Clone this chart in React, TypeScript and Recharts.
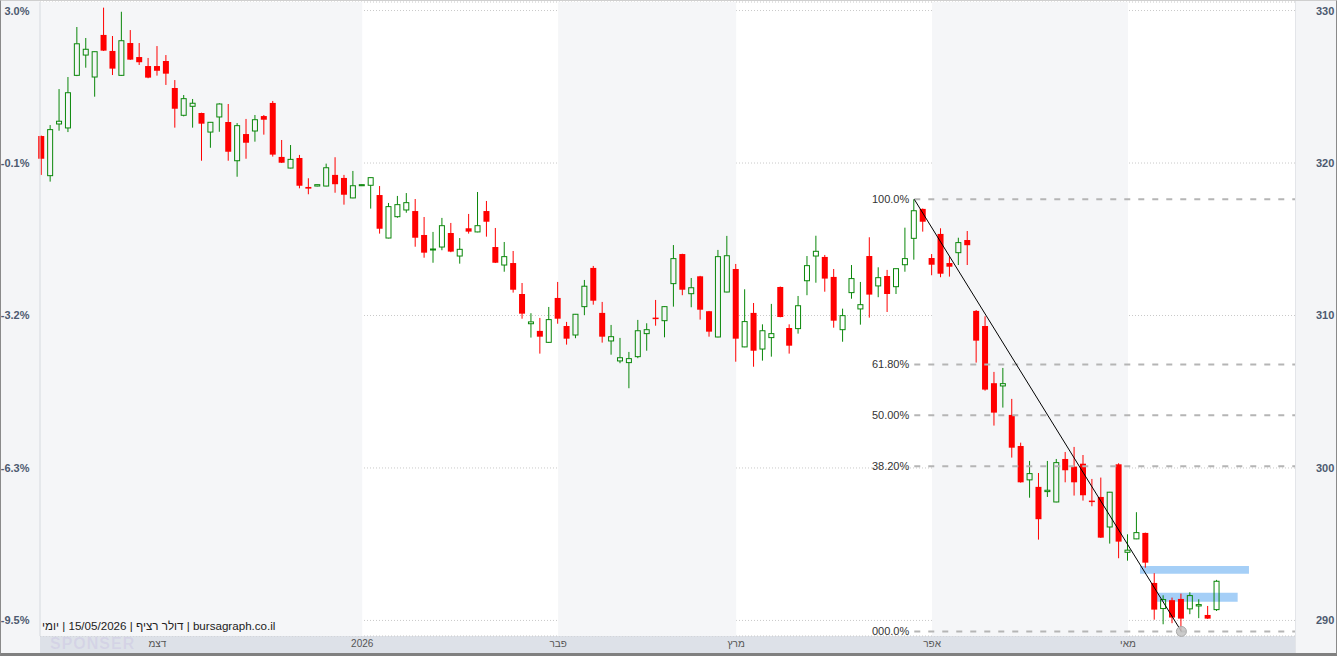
import React from 'react';
import {
  ComposedChart,
  Bar,
  XAxis,
  YAxis,
  CartesianGrid,
  ReferenceArea,
  ReferenceLine,
  ReferenceDot,
  Label,
} from 'recharts';

// ---- data ----
const opens = [
  321.77, 319.17, 322.56, 322.30, 325.75, 327.08, 325.64, 328.40, 327.35, 325.75,
  327.87, 326.95, 326.36, 326.36, 326.69, 324.92, 323.13, 323.72, 323.28, 322.03,
  323.02, 322.69, 320.15, 321.90, 322.10, 323.08, 323.94, 320.40, 319.67, 320.33,
  318.43, 318.49, 318.49, 319.22, 319.02, 317.71, 318.51, 318.54, 317.90, 315.08,
  316.48, 316.92, 316.85, 315.28, 314.32, 314.49, 315.41, 313.90, 315.72, 315.48,
  316.85, 314.49, 313.31, 313.44, 311.41, 309.46, 308.99, 308.24, 311.15, 309.31,
  308.72, 310.58, 313.12, 310.17, 308.33, 307.02, 306.91, 307.30, 308.81, 309.86,
  309.66, 312.09, 314.03, 311.43, 312.57, 310.28, 308.59, 311.54, 313.05, 307.94,
  310.17, 307.80, 308.55, 311.87, 309.18, 309.14, 312.28, 313.90, 313.84, 312.53,
  309.07, 311.50, 310.43, 313.90, 311.94, 312.59, 311.89, 313.33, 315.06, 316.99,
  313.77, 315.35, 313.44, 314.12, 314.95, 310.30, 309.31, 305.56, 305.38, 303.48,
  301.44, 299.22, 298.76, 298.45, 297.77, 300.59, 300.09, 300.28, 297.86, 298.10,
  296.13, 300.24, 294.47, 295.35, 295.74, 292.46, 290.78, 291.33, 291.41, 290.76,
  290.95, 290.36, 290.71,
];
const highs = [
  321.80, 322.49, 324.85, 325.64, 328.92, 328.20, 327.32, 330.19, 328.33, 329.92,
  328.72, 327.87, 326.89, 327.67, 327.08, 325.44, 324.46, 324.20, 323.30, 322.69,
  323.92, 323.87, 322.62, 322.89, 323.15, 323.15, 324.07, 321.51, 321.18, 320.53,
  319.00, 318.60, 319.96, 320.38, 319.22, 319.48, 318.60, 319.06, 318.49, 317.38,
  317.84, 318.03, 317.64, 316.46, 315.48, 316.40, 316.07, 315.08, 316.66, 318.10,
  317.51, 315.74, 314.82, 314.23, 312.13, 310.15, 309.84, 310.56, 312.20, 309.58,
  310.10, 312.33, 313.25, 310.89, 309.38, 308.53, 307.61, 309.71, 309.49, 311.02,
  310.61, 314.62, 314.05, 312.46, 312.60, 310.30, 314.30, 315.22, 313.38, 311.72,
  310.82, 309.42, 310.76, 311.90, 309.42, 311.28, 313.90, 315.23, 313.97, 313.05,
  310.45, 313.31, 312.20, 315.13, 313.16, 312.99, 313.09, 315.76, 317.62, 317.02,
  314.03, 315.72, 313.86, 315.10, 315.54, 310.36, 309.95, 306.30, 306.56, 304.53,
  301.66, 300.46, 299.67, 300.46, 300.59, 301.05, 301.38, 300.85, 299.28, 299.37,
  298.43, 300.31, 295.65, 297.10, 295.76, 293.10, 291.65, 291.50, 291.76, 291.85,
  291.39, 290.95, 292.66,
];
const lows = [
  319.22, 318.78, 322.12, 322.03, 325.70, 326.25, 324.35, 327.35, 325.77, 325.72,
  326.76, 326.43, 325.56, 325.73, 325.12, 322.32, 323.06, 322.32, 320.15, 321.00,
  322.05, 320.15, 319.10, 320.28, 321.40, 321.86, 320.42, 320.00, 319.65, 318.34,
  317.95, 318.47, 318.47, 318.05, 317.27, 317.69, 318.49, 317.01, 315.37, 315.06,
  316.41, 316.74, 314.51, 313.79, 313.46, 314.28, 314.15, 313.40, 315.37, 315.46,
  315.17, 313.44, 312.87, 311.50, 309.79, 308.55, 307.50, 308.20, 309.46, 308.09,
  308.51, 310.02, 310.71, 308.22, 307.43, 306.87, 305.23, 307.20, 307.69, 309.33,
  308.57, 310.58, 311.33, 310.54, 309.73, 308.61, 308.57, 311.52, 306.97, 307.92,
  306.64, 307.04, 307.30, 309.88, 307.50, 308.81, 311.33, 312.15, 311.56, 309.20,
  308.28, 311.10, 309.40, 309.86, 311.20, 310.23, 311.41, 312.87, 313.66, 315.50,
  312.64, 312.51, 312.55, 313.31, 313.31, 306.91, 305.07, 302.78, 303.96, 300.68,
  299.04, 298.05, 295.30, 298.10, 297.75, 299.06, 298.19, 297.86, 297.49, 295.41,
  295.04, 294.08, 293.92, 295.33, 293.46, 290.05, 289.75, 289.82, 289.28, 290.41,
  290.15, 290.10, 290.62,
];
const closes = [
  320.28, 322.19, 322.74, 324.61, 327.82, 327.46, 327.30, 327.37, 326.19, 328.02,
  326.78, 326.61, 325.60, 326.05, 325.86, 323.56, 324.22, 323.92, 322.58, 322.67,
  323.87, 320.74, 322.45, 321.33, 322.84, 322.84, 320.55, 320.02, 320.24, 318.51,
  318.32, 318.58, 319.69, 318.61, 317.92, 318.51, 318.58, 319.04, 315.69, 317.14,
  317.27, 317.40, 315.10, 314.12, 314.36, 315.89, 314.19, 314.34, 315.50, 315.89,
  316.15, 313.46, 313.86, 311.69, 310.12, 309.58, 308.61, 309.73, 309.79, 308.48,
  310.08, 311.92, 310.97, 308.61, 308.61, 307.23, 307.17, 309.00, 309.07, 309.82,
  310.58, 313.73, 311.69, 311.82, 310.38, 308.94, 313.86, 313.92, 308.48, 309.60,
  307.69, 309.00, 308.81, 309.90, 308.02, 310.64, 313.27, 314.21, 312.42, 309.66,
  309.99, 312.42, 310.71, 311.37, 312.48, 311.41, 313.07, 313.73, 316.87, 316.15,
  313.33, 312.74, 313.20, 314.78, 314.61, 308.35, 305.14, 303.63, 305.53, 301.33,
  299.06, 299.63, 296.64, 298.54, 300.35, 299.85, 299.06, 298.21, 297.82, 295.43,
  298.41, 295.17, 294.61, 295.76, 293.79, 290.71, 291.37, 290.19, 290.12, 291.63,
  291.04, 290.12, 292.57,
];

const priceTicks = [290, 300, 310, 320, 330];
const pctLabels = ['-9.5%', '-6.3%', '-3.2%', '-0.1%', '3.0%'];

const monthTickIdx = [13, 36, 58, 78, 100, 122];
const monthLabels = ['דצמ', '2026', 'פבר', 'מרץ', 'אפר', 'מאי'];

// shaded month bands (index ranges)
const shadeStart = [-0.19, 58, 100];
const shadeEnd = [36, 78, 122];

// fibonacci retracement: swing high / swing low (index, price)
const fibHighIdx = 98;
const fibHighPrice = 317.62;
const fibLowIdx = 128;
const fibLowPrice = 289.28;
const fibRatios = [1, 0.618, 0.5, 0.382, 0];
const fibLabels = ['100.0%', '61.80%', '50.00%', '38.20%', '000.0%'];

// blue zones (index range, price range)
const zoneX1 = [123.35, 125.22];
const zoneX2 = [135.59, 134.32];
const zoneYLow = [293.07, 291.23];
const zoneYHigh = [293.57, 291.82];

const X_MIN = -0.19;
const X_MAX = 140.76;
const Y_MIN = 288.98;
const Y_MAX = 330.56;

const GREEN = '#0a870a';
const RED = '#ff0000';
const FONT = '"Liberation Sans", Arial, sans-serif';

const data = opens.map((o, i) => ({
  i,
  o,
  h: highs[i],
  l: lows[i],
  c: closes[i],
  range: [lows[i], highs[i]],
}));

function Candle(props: any) {
  const { x, y, width, height, payload } = props;
  if (!payload || !Number.isFinite(x) || !Number.isFinite(y) || !Number.isFinite(height)) return null;
  const yTop = Math.min(y, y + height);
  const yBot = Math.max(y, y + height);
  const span = payload.h - payload.l;
  const py = (v: number) => (span > 0 ? yTop + ((payload.h - v) / span) * (yBot - yTop) : yTop);
  const cx = x + width / 2;
  const up = payload.c >= payload.o;
  const bTop = py(Math.max(payload.o, payload.c));
  const bBot = py(Math.min(payload.o, payload.c));
  if (up) {
    const bh = Math.max(bBot - bTop, 1);
    return (
      <g>
        {bTop > yTop + 0.2 && <line x1={cx} x2={cx} y1={yTop} y2={bTop} stroke={GREEN} strokeWidth={1} />}
        {yBot > bTop + bh + 0.2 && <line x1={cx} x2={cx} y1={bTop + bh} y2={yBot} stroke={GREEN} strokeWidth={1} />}
        <rect x={cx - width / 2 + 0.5} y={bTop} width={width - 1} height={bh} fill="none" stroke={GREEN} strokeWidth={1} />
      </g>
    );
  }
  const bh = Math.max(bBot - bTop, 1.5);
  return (
    <g>
      <line x1={cx} x2={cx} y1={yTop} y2={yBot} stroke={RED} strokeWidth={1} />
      <rect x={cx - width / 2} y={bTop} width={width} height={bh} fill={RED} />
    </g>
  );
}

const PctTick = (p: any) => {
  const idx = priceTicks.indexOf(p.payload.value);
  return (
    <text x={p.x} y={p.y} dy={4} textAnchor="end" fontSize={11} fontWeight="bold" fill="#4d5a70" fontFamily={FONT}>
      {pctLabels[idx]}
    </text>
  );
};

const PriceTick = (p: any) => (
  <text x={p.x} y={p.y} dy={4} textAnchor="start" fontSize={11} fontWeight="bold" fill="#4d5a70" fontFamily={FONT}>
    {p.payload.value}
  </text>
);

const MonthTick = (p: any) => {
  const idx = monthTickIdx.indexOf(p.payload.value);
  return (
    <text x={p.x} y={p.y} dy={5} textAnchor="middle" fontSize={10} fill="#555" fontFamily={FONT}>
      {monthLabels[idx]}
    </text>
  );
};

export default function App() {
  const fibLevels = fibRatios.map((r) => fibLowPrice + r * (fibHighPrice - fibLowPrice));
  return (
    <div style={{ position: 'absolute', left: 0, top: 0, width: 1337, height: 656, background: '#fff', overflow: 'hidden', fontFamily: FONT }}>
      {/* panels */}
      <div style={{ position: 'absolute', left: 0, top: 0, width: 40, height: 656, background: '#f4f5f7' }} />
      <div style={{ position: 'absolute', left: 1295, top: 0, width: 42, height: 656, background: '#f4f5f7', borderLeft: '1px solid #e3e5e9', boxSizing: 'border-box' }} />
      <div style={{ position: 'absolute', left: 40, top: 636, width: 1255, height: 17, background: '#dde1e8' }} />
      <div style={{ position: 'absolute', left: 0, top: 0 }}>
        <ComposedChart width={1337} height={656} data={data} margin={{ top: 2, right: 0, bottom: 4, left: 0 }}>
          {shadeStart.map((s, k) => (
            <ReferenceArea key={'sh' + k} x1={s} x2={shadeEnd[k]} yAxisId="price" fill="#f5f6f8" fillOpacity={1} stroke="none" />
          ))}
          <CartesianGrid yAxisId="price" vertical={false} stroke="#c9c9c9" strokeDasharray="1 2" />
          <XAxis
            dataKey="i"
            type="number"
            domain={[X_MIN, X_MAX]}
            ticks={monthTickIdx}
            interval={0}
            height={16}
            axisLine={false}
            tickLine={false}
            tickSize={6}
            tickMargin={0}
            tick={<MonthTick />}
          />
          <YAxis
            yAxisId="pct"
            orientation="left"
            type="number"
            width={40}
            domain={[Y_MIN, Y_MAX]}
            allowDataOverflow
            ticks={priceTicks}
            interval={0}
            tickLine={false}
            tickSize={6}
            tickMargin={4.5}
            axisLine={{ stroke: '#d6d9de' }}
            tick={<PctTick />}
          />
          <YAxis
            yAxisId="price"
            orientation="right"
            type="number"
            width={42}
            domain={[Y_MIN, Y_MAX]}
            allowDataOverflow
            ticks={priceTicks}
            interval={0}
            tickLine={false}
            tickSize={6}
            tickMargin={15}
            axisLine={false}
            tick={<PriceTick />}
          />
          {zoneX1.map((x1, k) => (
            <ReferenceArea
              key={'z' + k}
              yAxisId="price"
              x1={x1}
              x2={zoneX2[k]}
              y1={zoneYLow[k]}
              y2={zoneYHigh[k]}
              fill="#a5cff7"
              fillOpacity={1}
              stroke="none"
            />
          ))}
          {fibLevels.map((lv, k) => (
            <ReferenceLine
              key={'f' + k}
              yAxisId="price"
              segment={[{ x: fibHighIdx, y: lv }, { x: X_MAX, y: lv }]}
              stroke="#b5b5b5"
              strokeWidth={2}
              strokeDasharray="6 8"
            >
              <Label value={fibLabels[k]} position="left" offset={5} fill="#333" fontSize={11} fontFamily={FONT} />
            </ReferenceLine>
          ))}
          <Bar dataKey="range" yAxisId="price" barSize={6} shape={<Candle />} isAnimationActive={false} />
          <ReferenceLine
            yAxisId="price"
            segment={[{ x: fibHighIdx, y: fibHighPrice }, { x: fibLowIdx, y: fibLowPrice }]}
            stroke="#000"
            strokeWidth={1}
          />
          <ReferenceDot yAxisId="price" x={fibLowIdx} y={fibLowPrice} r={5} fill="#c2c2c2" fillOpacity={0.85} stroke="#aaaaaa" />
        </ComposedChart>
      </div>
      {/* watermark */}
      <div style={{ position: 'absolute', left: 50, top: 636, fontSize: 16, lineHeight: '16px', fontWeight: 'bold', color: 'rgba(150,120,215,0.13)', letterSpacing: 1, pointerEvents: 'none' }}>
        SPONSER
      </div>
      {/* caption */}
      <div dir="rtl" style={{ position: 'absolute', left: 42, top: 619, fontSize: 11.6, lineHeight: '14px', color: '#222', whiteSpace: 'nowrap', direction: 'rtl', display: 'inline-block' }}>
        bursagraph.co.il | דולר רציף | 15/05/2026 | יומי
      </div>
      {/* frame */}
      <div style={{ position: 'absolute', left: 0, top: 0, width: 1337, height: 656, boxSizing: 'border-box', borderLeft: '1px solid #8a8a8a', borderRight: '1px solid #8a8a8a', borderTop: '1px solid #cfcfcf', borderBottom: '3px solid #808080', pointerEvents: 'none' }} />
    </div>
  );
}
